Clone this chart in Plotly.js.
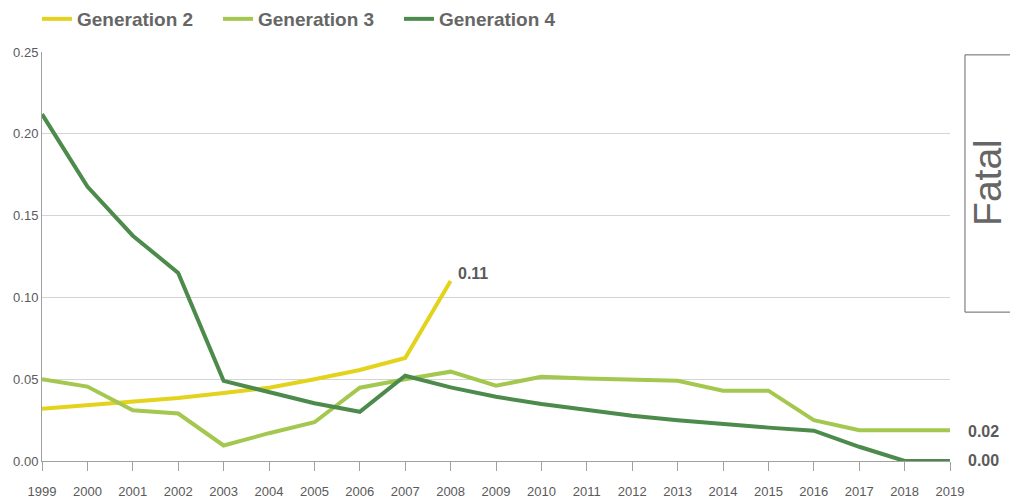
<!DOCTYPE html>
<html>
<head>
<meta charset="utf-8">
<script src="https://cdn.plot.ly/plotly-3.0.1.min.js"></script>
<style>
  html, body { margin: 0; padding: 0; background: #fff; }
  #chart { width: 1010px; height: 499px; }
</style>
</head>
<body>
<div id="chart"></div>
<script>
// Years on the x axis
const years = [1999, 2000, 2001, 2002, 2003, 2004, 2005, 2006, 2007, 2008, 2009,
               2010, 2011, 2012, 2013, 2014, 2015, 2016, 2017, 2018, 2019];

// Series values
const gen2Years = [1999, 2000, 2001, 2002, 2003, 2004, 2005, 2006, 2007, 2008];
const gen2 = [0.032, 0.034, 0.036, 0.0385, 0.0415, 0.0448, 0.050, 0.0556, 0.063, 0.110];
const gen3 = [0.050, 0.0455, 0.031, 0.029, 0.0095, 0.017, 0.0237, 0.0448, 0.050, 0.0546, 0.046,
              0.0515, 0.0505, 0.0497, 0.049, 0.043, 0.043, 0.025, 0.0188, 0.0188, 0.0188];
const gen4 = [0.212, 0.1677, 0.1377, 0.115, 0.049, 0.0424, 0.0353, 0.0301, 0.0521, 0.045, 0.0393,
              0.0348, 0.0312, 0.0277, 0.0249, 0.0224, 0.0204, 0.0185, 0.0087, 0.0, 0.0];

const seriesNames = ['Generation 2', 'Generation 3', 'Generation 4'];
const seriesColors = ['#e4d31c', '#a4c84f', '#4c8b4c'];

// End labels
const endLabels = [
  { x: 2008, y: 0.11, text: '0.11', dx: 5, dy: 8 },
  { x: 2019, y: 0.0188, text: '0.02', dx: 16, dy: -1 },
  { x: 2019, y: 0.0, text: '0.00', dx: 16, dy: 1 }
];

const textColor = '#5a5a5a';
const fontFamily = '"Liberation Sans", Arial, sans-serif';

var traces = [
  { x: gen2Years, y: gen2, name: seriesNames[0] },
  { x: years, y: gen3, name: seriesNames[1] },
  { x: years, y: gen4, name: seriesNames[2] }
].map(function(t, i) {
  t.type = 'scatter';
  t.mode = 'lines';
  t.line = { color: seriesColors[i], width: 4 };
  t.hoverinfo = 'skip';
  return t;
});

var annotations = endLabels.map(function(l) {
  return {
    x: l.x, y: l.y, xref: 'x', yref: 'y',
    text: l.text, showarrow: false,
    xanchor: 'left', yanchor: 'middle', xshift: l.dx, yshift: l.dy,
    font: { family: fontFamily, size: 16, color: textColor, weight: 'bold' }
  };
});

// side panel label
annotations.push({
  x: 1.0419, y: 0.68, xref: 'paper', yref: 'paper',
  text: 'Fatal', showarrow: false, textangle: -90,
  xanchor: 'center', yanchor: 'middle',
  font: { family: fontFamily, size: 39, color: '#666' }
});

var layout = {
  width: 1010,
  height: 499,
  margin: { l: 42, r: 60, t: 52, b: 38 },
  paper_bgcolor: '#fff',
  plot_bgcolor: '#fff',
  font: { family: fontFamily, size: 13, color: textColor },
  showlegend: true,
  legend: {
    orientation: 'h',
    xref: 'container', yref: 'container',
    x: 0.0366, y: 1.0, xanchor: 'left', yanchor: 'top',
    font: { family: fontFamily, size: 19, color: '#666', weight: 'bold' },
    itemwidth: 30,
    entrywidth: 136,
    entrywidthmode: 'pixels',
    traceorder: 'normal'
  },
  xaxis: {
    range: [1999, 2019],
    tickvals: years,
    ticktext: years.map(String),
    showgrid: false,
    zeroline: false,
    showline: true,
    linecolor: '#a0a0a0',
    linewidth: 1,
    ticks: 'outside',
    ticklen: 9,
    tickcolor: '#a0a0a0',
    ticklabelstandoff: 9,
    tickfont: { size: 13, color: textColor },
    fixedrange: true
  },
  yaxis: {
    range: [0, 0.25],
    tickvals: [0, 0.05, 0.10, 0.15, 0.20, 0.25],
    tickformat: '.2f',
    showgrid: true,
    gridcolor: '#d4d4d4',
    gridwidth: 1,
    zeroline: false,
    showline: true,
    linecolor: '#a0a0a0',
    linewidth: 1,
    ticks: '',
    tickfont: { size: 13, color: textColor },
    fixedrange: true
  },
  shapes: [{
    type: 'rect', xref: 'paper', yref: 'paper',
    x0: 1.0165, x1: 1.08, y0: 0.364, y1: 0.993,
    line: { color: '#666', width: 1 },
    fillcolor: 'rgba(0,0,0,0)'
  }],
  annotations: annotations
};

Plotly.newPlot('chart', traces, layout, { displayModeBar: false, staticPlot: true });
</script>
</body>
</html>
